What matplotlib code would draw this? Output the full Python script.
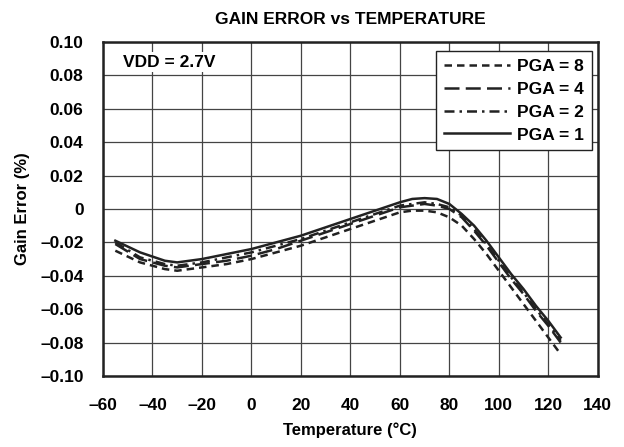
import matplotlib
matplotlib.use("Agg")
import matplotlib.pyplot as plt
import numpy as np

# temperatures (°C) at which the curves were read
temp = [-55, -45, -35, -30, -20, -10, 0, 10, 20, 30, 40, 50, 60, 65, 70, 75, 80, 85, 90, 95, 100, 105, 110, 115, 120, 125]

# gain error (%) for each PGA setting
pga8 = [-0.025, -0.032, -0.036, -0.037, -0.035, -0.033, -0.030, -0.026, -0.022, -0.017, -0.012, -0.007, -0.002, -0.001, -0.001, -0.002, -0.005, -0.010, -0.018, -0.027, -0.037, -0.047, -0.057, -0.067, -0.077, -0.087]
pga4 = [-0.021, -0.030, -0.034, -0.035, -0.033, -0.031, -0.028, -0.024, -0.019, -0.014, -0.009, -0.004, 0.001, 0.002, 0.003, 0.002, 0.000, -0.005, -0.013, -0.022, -0.032, -0.042, -0.051, -0.061, -0.070, -0.080]
pga2 = [-0.020, -0.029, -0.033, -0.034, -0.032, -0.029, -0.026, -0.022, -0.018, -0.013, -0.008, -0.003, 0.002, 0.003, 0.004, 0.003, 0.001, -0.004, -0.012, -0.021, -0.031, -0.041, -0.050, -0.060, -0.069, -0.079]
pga1 = [-0.019, -0.026, -0.031, -0.032, -0.030, -0.027, -0.024, -0.020, -0.016, -0.011, -0.006, -0.001, 0.004, 0.006, 0.0065, 0.006, 0.003, -0.003, -0.010, -0.019, -0.029, -0.039, -0.048, -0.058, -0.067, -0.077]

xticks = [-60, -40, -20, 0, 20, 40, 60, 80, 100, 120, 140]
yticks = [0.10, 0.08, 0.06, 0.04, 0.02, 0, -0.02, -0.04, -0.06, -0.08, -0.10]
ylabels = ["0.10", "0.08", "0.06", "0.04", "0.02", "0", "\u20130.02", "\u20130.04", "\u20130.06", "\u20130.08", "\u20130.10"]
xlabels = ["\u201360", "\u201340", "\u201320", "0", "20", "40", "60", "80", "100", "120", "140"]

plt.rcParams["font.family"] = ["Liberation Sans", "DejaVu Sans"]
plt.rcParams["font.weight"] = "bold"

fig = plt.figure(figsize=(6.24, 4.47), dpi=100)
ax = fig.add_axes([0.165, 0.159, 0.793, 0.747])

ax.plot(temp, pga8, color="#222222", lw=1.8, ls=(0, (3, 2)), label="PGA = 8")
ax.plot(temp, pga4, color="#222222", lw=1.8, ls=(0, (6, 2.5)), label="PGA = 4")
ax.plot(temp, pga2, color="#222222", lw=1.8, ls=(0, (4, 2, 1, 2)), label="PGA = 2")
ax.plot(temp, pga1, color="#222222", lw=1.8, ls="-", label="PGA = 1")

ax.set_xlim(-60, 140)
ax.set_ylim(-0.10, 0.10)
ax.set_xticks(xticks)
ax.set_xticklabels(xlabels)
ax.set_yticks(yticks)
ax.set_yticklabels(ylabels)
ax.tick_params(length=0, labelsize=12.5)
ax.tick_params(axis="x", pad=16)
ax.tick_params(axis="y", pad=14)
ax.grid(True, color="#444444", lw=0.9)
for s in ax.spines.values():
    s.set_linewidth(1.8)
    s.set_color("#222222")

ax.set_xlabel("Temperature (\u00b0C)", fontsize=12, fontweight="bold", labelpad=7)
ax.set_ylabel("Gain Error (%)", fontsize=12, fontweight="bold", labelpad=7)
ax.set_title("GAIN ERROR vs TEMPERATURE", fontsize=12.5, fontweight="bold", pad=13)

ax.text(-52, 0.088, "VDD = 2.7V", fontsize=12.5, fontweight="bold", va="center", ha="left",
        bbox=dict(facecolor="white", edgecolor="none", pad=2))

leg = ax.legend(loc="upper right", fontsize=12.5, handlelength=3.8, handletextpad=0.4,
                labelspacing=0.45, borderpad=0.45, fancybox=False, framealpha=1,
                edgecolor="#222222", bbox_to_anchor=(1.005, 1.0))
leg.get_frame().set_linewidth(1.0)

fig.savefig("out.png", dpi=100)
